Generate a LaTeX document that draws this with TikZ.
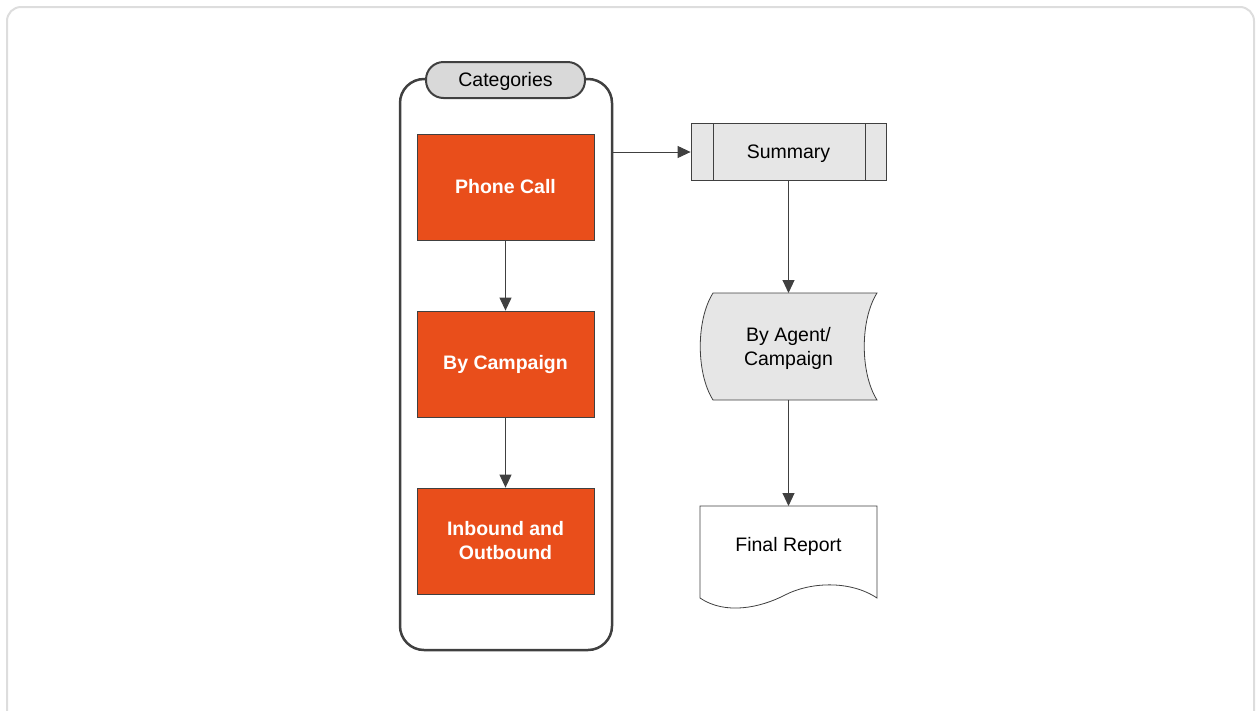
\documentclass[tikz,border=0pt]{standalone}
\usepackage{fontspec}
\setmainfont{Liberation Sans}
\usetikzlibrary{arrows.meta}
\definecolor{frameg}{HTML}{DDDDDD}
\definecolor{dk}{HTML}{404040}
\definecolor{org}{HTML}{E94E1B}
\definecolor{lg}{HTML}{E6E6E6}
\definecolor{tabg}{HTML}{D9D9D9}
\begin{document}
\begin{tikzpicture}[x=1pt,y=-1pt,
  obox/.style={draw=dk,line width=0.8pt,fill=org,text=white,font=\fontsize{19.5}{24}\selectfont\bfseries,minimum width=177pt,minimum height=106pt,align=center,inner sep=0pt},
  conn/.style={draw=dk,line width=1pt,-{Triangle[length=13pt,width=12pt]}},
  txt/.style={font=\fontsize{19.5}{24}\selectfont,align=center,text=black}]
\useasboundingbox (0,0) rectangle (1258,710);
\draw[frameg,line width=2pt,rounded corners=14pt] (7,7) rectangle (1254,730);
% container
\draw[dk,line width=2.5pt,rounded corners=24pt] (400,79) rectangle (612,650);
\coordinate (cright) at (612,152);
\node[draw=dk,line width=2pt,fill=tabg,rounded corners=17.5pt,minimum width=159pt,minimum height=36pt,inner sep=0pt] (cat) at (505.5,80) {};
\node[txt,inner sep=0pt] (catlbl) at (505.5,81.5) {Categories};
\node[obox] (pc) at (505.5,187) {Phone Call};
\node[obox] (bc) at (505.5,364) {By Campaign};
\node[obox] (io) at (505.5,541) {Inbound and\\Outbound};
\draw[conn] (pc.south) -- (bc.north);
\draw[conn] (bc.south) -- (io.north);
% summary
\node[draw=dk,line width=0.8pt,fill=lg,minimum width=195pt,minimum height=57pt,inner sep=0pt] (sum) at (788.5,152) {};
\node[txt,inner sep=0pt] (sumlbl) at (788.5,153.5) {Summary};
\draw[dk,line width=0.8pt] (713,123.5) -- (713,180.5) (865,123.5) -- (865,180.5);
\draw[conn] (cright) -- (sum.west);
% by agent stored data
\draw[dk,line width=0.8pt,fill=lg] (713,293) -- (877,293) .. controls (860,320) and (860,373) .. (877,400) -- (713,400) .. controls (696,373) and (696,320) .. (713,293) -- cycle;
\node[txt,inner sep=0pt] (ag) at (788.5,348) {By Agent/\\Campaign};
\coordinate (agtop) at (788.5,293);
\coordinate (agbot) at (788.5,400);
\draw[conn] (sum.south) -- (agtop);
% final report
\draw[dk,line width=0.8pt,fill=white] (700,506) -- (877,506) -- (877,598) .. controls (850,580) and (810,582) .. (785,595) .. controls (760,608) and (725,615) .. (700,598) -- cycle;
\node[txt,inner sep=0pt] (fr) at (788.5,546.5) {Final Report};
\coordinate (frtop) at (788.5,506);
\draw[conn] (agbot) -- (frtop);
\end{tikzpicture}
\end{document}
